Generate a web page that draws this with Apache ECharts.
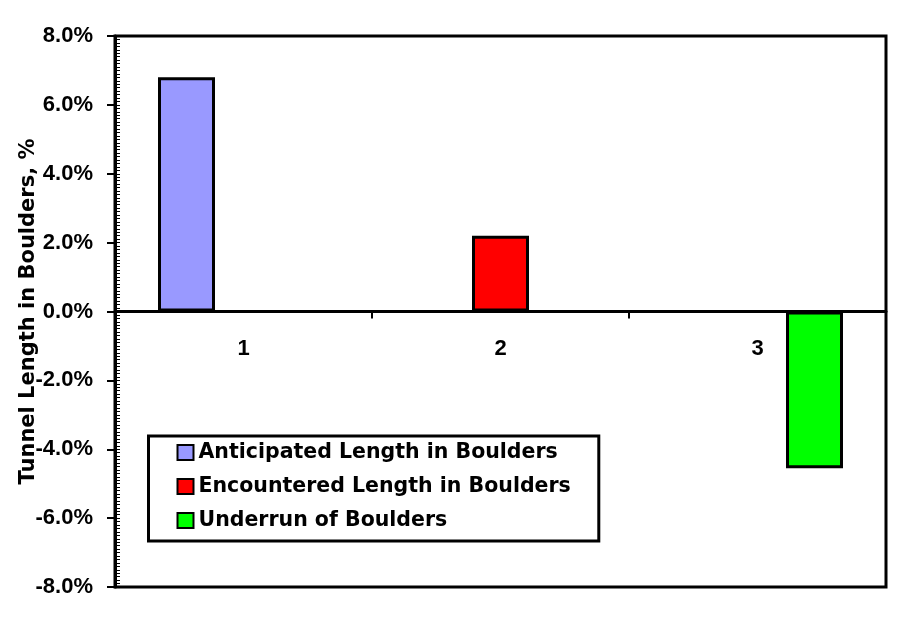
<!DOCTYPE html>
<html>
<head>
<meta charset="utf-8">
<script src="https://cdn.jsdelivr.net/npm/echarts@6/dist/echarts.min.js"></script>
<style>
html,body{margin:0;padding:0;background:#fff;}
#chart{width:911px;height:623px;}
</style>
</head>
<body>
<div id="chart"></div>
<script>
var categories = ['1', '2', '3'];
var seriesNames = ['Anticipated Length in Boulders', 'Encountered Length in Boulders', 'Underrun of Boulders'];
var anticipated = [6.8, '-', '-'];
var encountered = ['-', 2.2, '-'];
var underrun = ['-', '-', -4.55];
var yTicks = [-8, -6, -4, -2, 0, 2, 4, 6, 8];

var colors = ['#9999FF', '#FF0000', '#00FF00'];
var chart = echarts.init(document.getElementById('chart'), null, {renderer: 'canvas'});
var tickFont = {fontFamily: '"Liberation Sans", Arial, sans-serif', fontWeight: 'bold', fontSize: 22, color: '#000'};

var gridTop = 36, gridBottom = 36, H = 623;
var zeroOffset = -((H - gridBottom) - (gridTop + H - gridBottom) / 2);

function barSeries(name, data, color) {
  return {
    name: name,
    type: 'bar',
    data: data,
    xAxisIndex: 0,
    yAxisIndex: 0,
    barWidth: 57,
    barGap: '0%',
    itemStyle: {color: color, borderColor: '#000', borderWidth: 3},
    emphasis: {disabled: true},
    animation: false
  };
}

chart.setOption({
  animation: false,
  grid: {
    left: 115, top: gridTop, right: 25, bottom: gridBottom,
    outerBoundsMode: 'none',
    containLabel: false,
    show: true, borderColor: '#000', borderWidth: 3, backgroundColor: '#fff'
  },
  legend: {
    orient: 'vertical',
    left: 148.5,
    top: 436,
    padding: [6, 28, 10, 28],
    itemGap: 13,
    itemWidth: 16,
    itemHeight: 15,
    icon: 'rect',
    borderColor: '#000',
    borderWidth: 3,
    backgroundColor: '#fff',
    itemStyle: {borderColor: '#000', borderWidth: 2},
    textStyle: {fontFamily: 'DejaVu Sans', fontWeight: 'bold', fontSize: 20.5, color: '#000'},
    data: seriesNames
  },
  xAxis: [{
    type: 'category',
    data: categories,
    position: 'bottom',
    axisLine: {onZero: true, onZeroAxisIndex: 0, lineStyle: {color: '#000', width: 3}},
    axisTick: {show: true, length: 7, lineStyle: {color: '#000', width: 2}},
    axisLabel: {show: false},
    splitLine: {show: false}
  }, {
    type: 'category',
    data: categories,
    position: 'bottom',
    offset: zeroOffset,
    axisLine: {show: false, onZero: false},
    axisTick: {show: false},
    axisLabel: Object.assign({margin: 26}, tickFont),
    splitLine: {show: false}
  }],
  yAxis: [{
    type: 'value',
    min: yTicks[0],
    max: yTicks[yTicks.length - 1],
    interval: 2,
    position: 'left',
    name: 'Tunnel Length in Boulders, %',
    nameLocation: 'middle',
    nameGap: 76,
    nameMoveOverlap: false,
    nameTextStyle: {fontFamily: 'DejaVu Sans', fontWeight: 'bold', fontSize: 21, color: '#000'},
    axisLine: {show: true, onZero: false, lineStyle: {color: '#000', width: 3}},
    axisTick: {show: true, length: 8, lineStyle: {color: '#000', width: 2}},
    axisLabel: Object.assign({margin: 22, formatter: function (v) { return v.toFixed(1) + '%'; }}, tickFont),
    splitLine: {show: false}
  }, {
    type: 'value',
    min: yTicks[0],
    max: yTicks[yTicks.length - 1],
    interval: 2,
    position: 'left',
    offset: 0,
    axisLine: {show: false, onZero: false},
    axisTick: {show: true, inside: true, length: 5, lineStyle: {color: '#000', width: 1}},
    minorTick: {show: true, splitNumber: 20, length: 5, lineStyle: {color: '#000', width: 1}},
    axisLabel: {show: false},
    splitLine: {show: false}
  }],
  series: [
    barSeries(seriesNames[0], anticipated, colors[0]),
    barSeries(seriesNames[1], encountered, colors[1]),
    barSeries(seriesNames[2], underrun, colors[2])
  ]
});
</script>
</body>
</html>
